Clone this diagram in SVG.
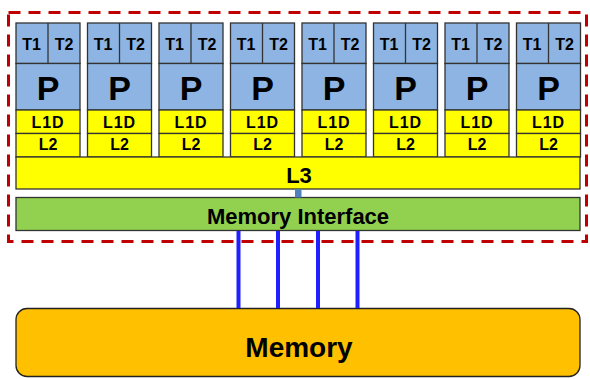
<svg xmlns="http://www.w3.org/2000/svg" width="590" height="379" viewBox="0 0 590 379">
<defs>
<style>
.core{fill:#8db4e2;stroke:#333;stroke-width:1.3}
.cache{fill:#ffff00;stroke:#333;stroke-width:1.3}
.t{font-family:"Liberation Sans",Arial,sans-serif;font-weight:bold;fill:#000;text-anchor:middle}
.s{font-size:16px}
.p{font-size:34px}
.bus{stroke:#1f1fff;stroke-width:4;fill:none}
</style>
<g id="coreTpl">
<rect class="core" x="0" y="23" width="64" height="40.5"/>
<line x1="32" y1="23" x2="32" y2="63.5" stroke="#333" stroke-width="1.3"/>
<rect class="core" x="0" y="63.5" width="64" height="46.5"/>
<rect class="cache" x="0" y="110" width="64" height="23.5"/>
<rect class="cache" x="0" y="133.5" width="64" height="23.5"/>
<text class="t s" x="15.5" y="50">T1</text>
<text class="t s" x="48" y="50">T2</text>
<text class="t p" x="32" y="100">P</text>
<text class="t s" x="32" y="128.3" letter-spacing="1">L1D</text>
<text class="t s" x="32" y="150">L2</text>
</g>
</defs>
<rect x="8.5" y="12.5" width="578" height="229" fill="none" stroke="#c00000" stroke-width="3" stroke-dasharray="12,8"/>
<g id="core1"><use href="#coreTpl" x="16"/></g>
<g id="core2"><use href="#coreTpl" x="87.5"/></g>
<g id="core3"><use href="#coreTpl" x="159"/></g>
<g id="core4"><use href="#coreTpl" x="230.5"/></g>
<g id="core5"><use href="#coreTpl" x="302"/></g>
<g id="core6"><use href="#coreTpl" x="373.5"/></g>
<g id="core7"><use href="#coreTpl" x="445"/></g>
<g id="core8"><use href="#coreTpl" x="516.5"/></g>
<g id="l3">
<rect class="cache" x="16" y="157" width="564" height="32"/>
<text class="t" x="299" y="182.5" font-size="22">L3</text>
</g>
<g id="memif">
<rect x="16" y="197.5" width="564" height="33" fill="#92d050" stroke="#333" stroke-width="1.3"/>
<text class="t" x="298" y="224" font-size="22">Memory Interface</text>
</g>
<g id="memory">
<rect x="16" y="308.5" width="564" height="68" rx="11" fill="#ffc000" stroke="#222" stroke-width="1.3"/>
<text class="t" x="299" y="356.5" font-size="28">Memory</text>
</g>
<g id="connectors">
<rect x="295" y="189" width="6.5" height="8.5" fill="#4f81bd"/>
<line class="bus" x1="238.5" y1="231" x2="238.5" y2="308"/>
<line class="bus" x1="278" y1="231" x2="278" y2="308"/>
<line class="bus" x1="318" y1="231" x2="318" y2="308"/>
<line class="bus" x1="357.5" y1="231" x2="357.5" y2="308"/>
</g>
</svg>
